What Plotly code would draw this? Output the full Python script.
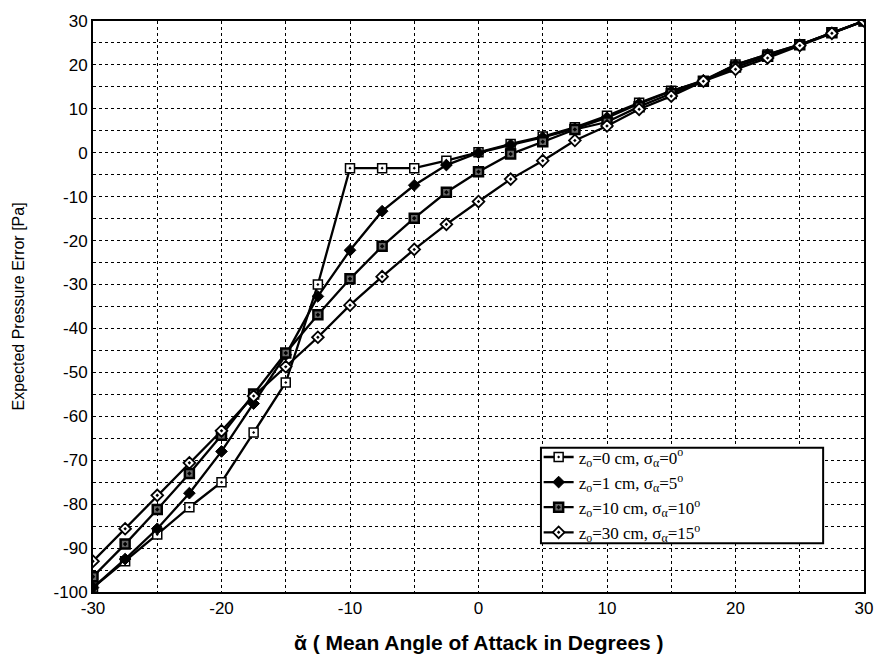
import plotly.graph_objects as go

alpha = [-30, -27.5, -25, -22.5, -20, -17.5, -15, -12.5, -10, -7.5, -5, -2.5, 0,
         2.5, 5, 7.5, 10, 12.5, 15, 17.5, 20, 22.5, 25, 27.5, 30]

err_z0 = [-99, -93, -86.9, -80.7, -75, -63.7, -52.3, -30, -3.5, -3.5, -3.5, -1.8, 0.1,
          2, 3.7, 5.8, 8.4, 11.4, 14.1, 16.3, 20.1, 22.4, 24.6, 27.3, 30]
err_z1 = [-99, -92.5, -85.6, -77.5, -68, -57.1, -46, -32.7, -22.2, -13.3, -7.4, -2.8, 0,
          1.8, 3.5, 5.5, 8.0, 11.2, 14.0, 16.5, 20.0, 22.4, 24.6, 27.3, 30]
err_z10 = [-96.5, -89.1, -81.2, -73, -64.3, -54.9, -45.6, -36.9, -28.7, -21.3, -14.9, -9, -4.3,
           -0.3, 2.5, 5.3, 7.0, 10.5, 13.5, 16.3, 19.5, 22.0, 24.6, 27.3, 30]
err_z30 = [-93, -85.6, -78, -70.6, -63.3, -55.4, -48.7, -42, -34.7, -28.2, -22, -16.3, -11.1,
           -6, -1.8, 2.8, 6.1, 9.9, 12.9, 16.3, 19.0, 21.6, 24.4, 27.2, 30]

names = [
    "z<sub>o</sub>=0 cm, σ<sub>α</sub>=0<sup>o</sup>",
    "z<sub>o</sub>=1 cm, σ<sub>α</sub>=5<sup>o</sup>",
    "z<sub>o</sub>=10 cm, σ<sub>α</sub>=10<sup>o</sup>",
    "z<sub>o</sub>=30 cm, σ<sub>α</sub>=15<sup>o</sup>",
]

x_ticks = [-30, -20, -10, 0, 10, 20, 30]
x_labels = ["-30", "-20", "-10", "0", "10", "20", "30"]
y_ticks = [30, 20, 10, 0, -10, -20, -30, -40, -50, -60, -70, -80, -90, -100]
y_labels = ["30", "20", "10", "0", "-10", "-20", "-30", "-40", "-50", "-60", "-70",
            "-80", "-90", "-100"]

styles = [
    dict(symbol="square-dot", size=9, color="white", line=dict(color="black", width=1.5)),
    dict(symbol="diamond", size=9, color="black", line=dict(color="black", width=1)),
    dict(symbol="square-dot", size=9, color="#666666", line=dict(color="black", width=2.5)),
    dict(symbol="diamond-dot", size=9, color="white", line=dict(color="black", width=1.8)),
]

fig = go.Figure()
for ys, nm, st in zip([err_z0, err_z1, err_z10, err_z30], names, styles):
    fig.add_trace(go.Scatter(x=alpha, y=ys, name=nm, mode="lines+markers",
                             line=dict(color="black", width=2.3), marker=st))

grid = dict(showgrid=True, gridcolor="black", griddash="dot", gridwidth=1.2)
axis_common = dict(showline=True, linecolor="black", linewidth=2, mirror=True,
                   zeroline=False, ticks="", **grid)

fig.update_xaxes(range=[-30, 30], tickvals=x_ticks, ticktext=x_labels,
                 tickfont=dict(family="Liberation Sans", size=17, color="black"),
                 minor=dict(dtick=5, **grid), **axis_common)
fig.update_yaxes(range=[-100, 30], tickvals=y_ticks, ticktext=y_labels,
                 tickfont=dict(family="Liberation Sans", size=17, color="black"),
                 minor=dict(dtick=5, **grid), **axis_common)

fig.update_layout(
    width=885, height=658,
    margin=dict(l=93, r=12, t=18, b=66),
    plot_bgcolor="white", paper_bgcolor="white",
    font=dict(family="Liberation Sans", color="black"),
    showlegend=True,
    legend=dict(x=0.578, y=0.17, xanchor="left", yanchor="middle",
                bgcolor="rgba(0,0,0,0)", borderwidth=0,
                font=dict(family="Liberation Serif", size=17, color="black"),
                tracegroupgap=0, itemwidth=30),
    shapes=[dict(type="rect", xref="paper", yref="paper", x0=0.581, x1=0.947,
                 y0=0.0854, y1=0.2526, line=dict(color="black", width=2),
                 fillcolor="white", layer="above")],
    annotations=[
        dict(text="<b>ᾰ ( Mean Angle of Attack in Degrees )</b>", xref="paper", yref="paper",
             x=0.5, y=-0.088, xanchor="center", yanchor="middle", showarrow=False,
             font=dict(family="Liberation Sans", size=21, color="black")),
        dict(text="Expected Pressure Error [Pa]", xref="paper", yref="paper",
             x=-0.096, y=0.5, xanchor="center", yanchor="middle", showarrow=False,
             textangle=-90, font=dict(family="Liberation Sans", size=16, color="black")),
    ],
)

fig.write_html("out.html", config={"displayModeBar": False},
               post_script="document.body.style.margin='0px';")
